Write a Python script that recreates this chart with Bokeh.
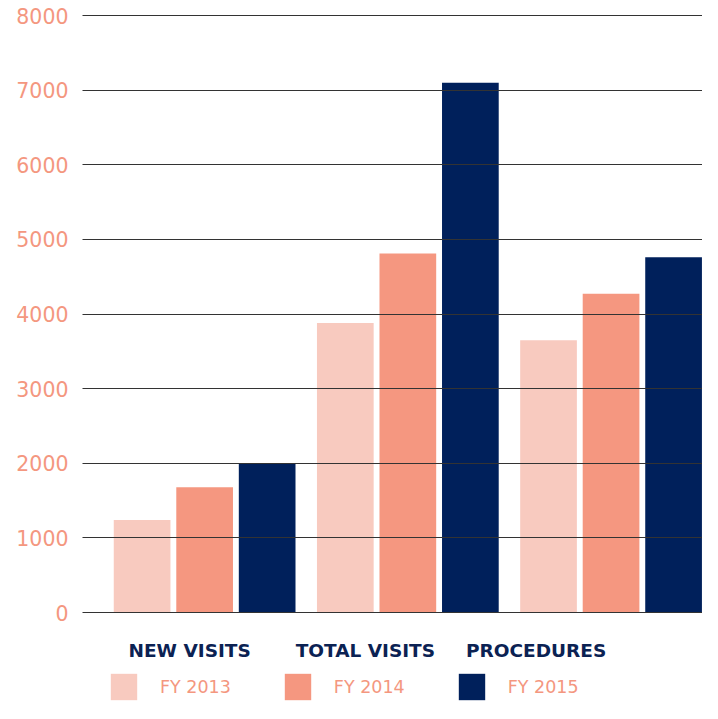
from bokeh.plotting import figure
from bokeh.models import ColumnDataSource, Range1d, FixedTicker, Legend, LegendItem, Label
from bokeh.transform import dodge
from bokeh.embed import file_html
from bokeh.resources import INLINE

# ---- data ----
categories = ["NEW VISITS", "TOTAL VISITS", "PROCEDURES"]
series_names = ["FY 2013", "FY 2014", "FY 2015"]
fy2013 = [1240, 3880, 3650]
fy2014 = [1680, 4810, 4270]
fy2015 = [2000, 7100, 4760]
y_ticks = [0, 1000, 2000, 3000, 4000, 5000, 6000, 7000, 8000]

colors = ["#F8CABF", "#F59780", "#00205B"]
label_color = "#F4977F"
navy = "#0B2253"

source = ColumnDataSource(dict(
    x=list(range(len(categories))),
    fy2013=fy2013, fy2014=fy2014, fy2015=fy2015,
))

p = figure(width=702, height=703, output_backend="svg", toolbar_location=None,
           x_axis_location=None,
           x_range=Range1d(-0.601, 2.45), y_range=Range1d(-1219, 8201),
           min_border_left=82, min_border_right=0, min_border_top=0, min_border_bottom=0)
p.outline_line_color = None
p.background_fill_color = "white"
p.border_fill_color = "white"

bar_w = 0.279
offs = [-0.3077, 0.0, 0.3077]
renderers = []
for key, off, c in zip(["fy2013", "fy2014", "fy2015"], offs, colors):
    r = p.vbar(x=dodge("x", off), top=key, width=bar_w, bottom=0, source=source,
               fill_color=c, line_color=None)
    renderers.append(r)

# axes
p.xgrid.visible = False
yax = p.yaxis[0]
yax.ticker = FixedTicker(ticks=y_ticks)
yax.axis_line_color = None
yax.major_tick_line_color = None
yax.minor_tick_line_color = None
yax.major_tick_out = 0
yax.major_tick_in = 0
yax.major_label_standoff = 14
yax.major_label_text_font = "DejaVu Sans"
yax.major_label_text_font_size = "20.5px"
yax.major_label_text_color = label_color

p.ygrid.ticker = FixedTicker(ticks=y_ticks)
p.ygrid.grid_line_color = "#333333"
p.ygrid.grid_line_width = 1
p.ygrid.level = "guide"

# category labels (x at category index, nudged in pixels; y in pixels above frame bottom)
label_offsets = [-15, -42.5, -75]
for i, (cat, xo) in enumerate(zip(categories, label_offsets)):
    p.add_layout(Label(x=i, y=53, x_units="data", y_units="screen", x_offset=xo,
                       text=cat, text_align="center", text_baseline="middle",
                       text_font="DejaVu Sans", text_font_style="bold",
                       text_font_size="18.5px", text_color=navy))

legend = Legend(items=[LegendItem(label=n, renderers=[r]) for n, r in zip(series_names, renderers)],
                orientation="horizontal", location=(25, 0),
                glyph_width=33, glyph_height=33, label_standoff=20, label_width=69,
                spacing=50, padding=0, margin=0,
                border_line_color=None, background_fill_alpha=0,
                label_text_font="DejaVu Sans", label_text_font_size="17.5px",
                label_text_color=label_color, label_text_baseline="middle")
p.add_layout(legend, "center")

open("out.html", "w").write(file_html(p, INLINE))
